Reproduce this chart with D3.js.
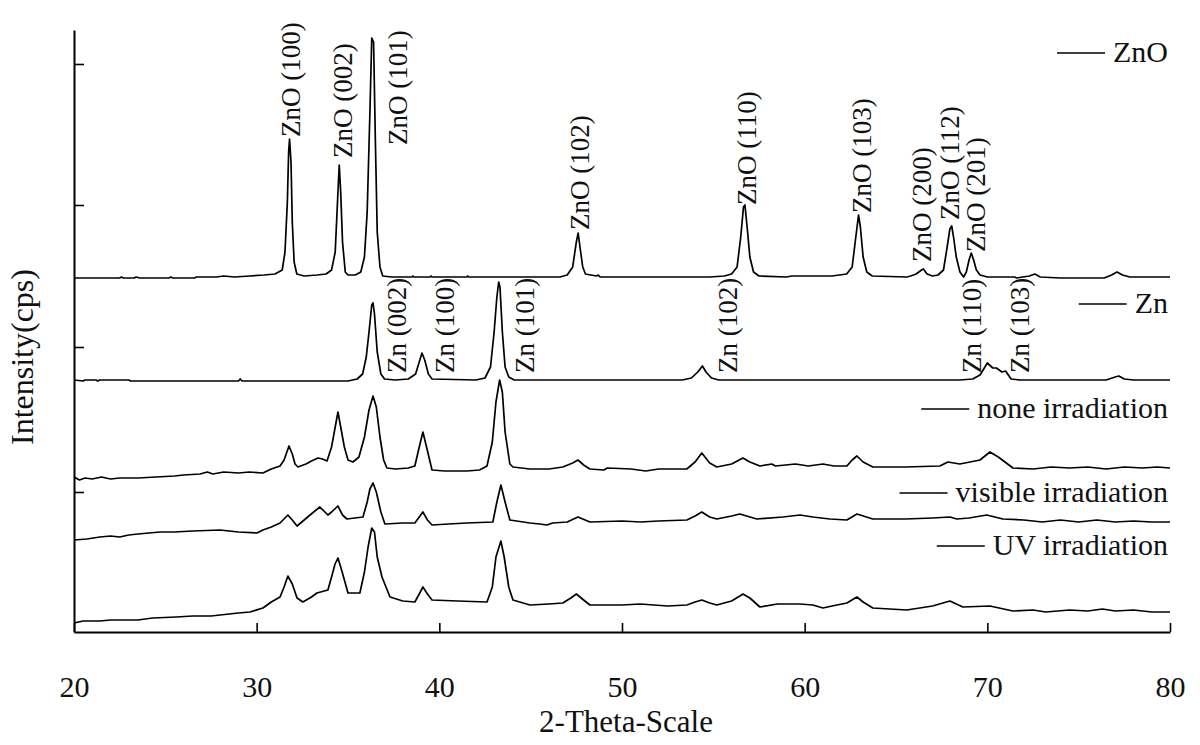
<!DOCTYPE html>
<html>
<head>
<meta charset="utf-8">
<script src="https://cdn.jsdelivr.net/npm/d3@7"></script>
<style>
  body { margin: 0; background: #fff; }
  svg text { font-family: "Liberation Serif", "Times New Roman", serif; fill: #111; }
</style>
</head>
<body>
<svg id="container"></svg>
<script>
// 2-theta (deg), intensity (a.u., curves already offset as plotted)
const zno = [
  [20, 354], [22.5, 354], [22.6, 355], [22.7, 354], [23.3, 354], [23.4, 355], [23.6, 354], [25.2, 354], [25.3, 355], [25.4, 354],
  [26.6, 354], [26.7, 355], [27.8, 355], [28.2, 356], [28.8, 355], [29.6, 356], [30.4, 357], [31.0, 358], [31.4, 362], [31.55, 380],
  [31.68, 430], [31.75, 480], [31.8, 493], [31.88, 470], [31.95, 410], [32.05, 370], [32.2, 358], [32.6, 356], [33.3, 357], [33.8, 358],
  [34.1, 362], [34.3, 380], [34.45, 440], [34.52, 467], [34.6, 440], [34.7, 390], [34.85, 360], [35.0, 357], [35.4, 357], [35.7, 360],
  [35.9, 375], [36.05, 420], [36.2, 520], [36.3, 594], [36.4, 590], [36.5, 490], [36.6, 400], [36.75, 365], [36.9, 356], [37.4, 355],
  [38.5, 355], [38.55, 356], [38.6, 355], [39.5, 355], [39.55, 356], [39.6, 355], [41.5, 355], [41.55, 356], [41.6, 355], [44.8, 355],
  [46.6, 355], [47.0, 357], [47.3, 365], [47.5, 390], [47.6, 399], [47.7, 385], [47.85, 365], [48.0, 358], [48.6, 356], [48.7, 357],
  [48.8, 355], [51.5, 355], [54.8, 355], [55.6, 356], [56.0, 358], [56.3, 365], [56.5, 395], [56.65, 425], [56.73, 427], [56.85, 405],
  [57.0, 375], [57.2, 360], [57.5, 356], [59.0, 355], [59.3, 356], [61.5, 356], [62.3, 358], [62.6, 365], [62.8, 395], [62.95, 417],
  [63.05, 405], [63.2, 375], [63.4, 360], [63.7, 356], [65.6, 355], [65.8, 356], [66.1, 358], [66.4, 362], [66.5, 363], [66.7, 358],
  [67.0, 356], [67.3, 357], [67.6, 362], [67.8, 385], [67.95, 403], [68.05, 406], [68.15, 395], [68.3, 375], [68.5, 360], [68.7, 355],
  [68.85, 360], [69.0, 372], [69.12, 379], [69.25, 372], [69.4, 362], [69.6, 357], [70.0, 355], [71.5, 355], [71.6, 354], [72.3, 356],
  [72.6, 358], [72.9, 355], [74.0, 354], [76.4, 354], [76.8, 357], [77.1, 360], [77.4, 357], [77.8, 355], [80, 355]
]

const zn = [
  [20, 252], [20.5, 251], [20.6, 252], [21.2, 252], [21.3, 251], [21.4, 252], [23.0, 252], [23.1, 251], [29.0, 251], [29.1, 253],
  [29.2, 251], [35.0, 251], [35.5, 253], [35.8, 258], [36.0, 275], [36.15, 300], [36.3, 327], [36.37, 329], [36.45, 318], [36.6, 280],
  [36.8, 258], [37.0, 253], [37.6, 252], [38.3, 253], [38.7, 258], [38.9, 270], [39.05, 279], [39.2, 272], [39.4, 258], [39.6, 253],
  [42.0, 252], [42.5, 254], [42.8, 265], [43.0, 300], [43.15, 335], [43.25, 350], [43.32, 345], [43.45, 300], [43.6, 265], [43.8, 255],
  [44.1, 252], [53.3, 252], [53.8, 254], [54.15, 260], [54.4, 266], [54.6, 260], [54.9, 254], [55.3, 252], [68.5, 252], [69.2, 253],
  [69.6, 257], [70.0, 269], [70.3, 264], [70.5, 264], [70.8, 260], [71.0, 261], [71.3, 253], [71.8, 252], [76.5, 252], [77.0, 255],
  [77.2, 256], [77.5, 253], [78, 252], [80, 252]
]

const noneIrr = [
  [20, 155], [20.3, 152], [20.6, 154], [21.0, 153], [21.5, 155], [22.0, 153], [22.5, 154], [23.5, 154], [24.5, 155], [25.5, 156],
  [26.0, 157], [26.9, 158], [27.3, 160], [27.6, 158], [28.2, 160], [29.0, 159], [29.6, 160], [30.34, 159], [30.8, 163], [31.28, 166],
  [31.5, 172], [31.77, 186], [31.95, 178], [32.1, 168], [32.26, 165], [32.7, 168], [33.0, 171], [33.36, 174], [33.6, 173], [33.85, 171],
  [34.1, 185], [34.3, 205], [34.45, 220], [34.6, 205], [34.8, 185], [35.0, 172], [35.27, 170], [35.6, 175], [35.9, 195], [36.15, 222],
  [36.37, 236], [36.55, 225], [36.75, 195], [36.95, 172], [37.13, 164], [37.6, 163], [38.3, 164], [38.66, 166], [38.9, 185], [39.1, 200],
  [39.3, 185], [39.6, 162], [40.3, 161], [41.5, 161], [42.2, 162], [42.61, 166], [42.9, 190], [43.1, 230], [43.3, 252], [43.45, 240],
  [43.6, 200], [43.86, 168], [44.03, 165], [44.96, 163], [46.0, 163], [46.76, 165], [47.3, 169], [47.59, 172], [47.9, 167], [48.24, 163],
  [49.0, 162], [49.2, 164], [50.5, 163], [51.3, 161], [52.0, 163], [53.55, 163], [54.0, 170], [54.37, 179], [54.8, 169], [55.19, 165],
  [56.0, 168], [56.62, 174], [57.0, 170], [57.55, 166], [58.2, 168], [58.4, 166], [59.5, 168], [60.2, 166], [61.0, 168], [61.6, 166],
  [62.31, 166], [62.6, 172], [62.86, 176], [63.2, 170], [63.73, 165], [65.5, 165], [67.4, 166], [67.84, 170], [68.49, 168], [69.6, 172],
  [70.14, 180], [70.6, 175], [71.4, 164], [72.5, 163], [73.5, 165], [74.5, 164], [75.5, 165], [76.5, 163], [77.5, 165], [78.5, 164],
  [79.3, 165], [80, 164]
]

const visibleIrr = [
  [20, 92], [20.7, 93], [21.42, 95], [22.0, 96], [22.5, 95], [23.0, 97], [23.5, 98], [24.71, 100], [25.5, 100], [26.5, 101],
  [27.99, 102], [28.5, 101], [29.0, 100], [30.02, 99], [30.34, 102], [30.8, 105], [31.28, 109], [31.71, 117], [31.95, 112], [32.21, 106],
  [32.6, 112], [32.92, 117], [33.46, 125], [33.9, 117], [34.1, 120], [34.45, 126], [34.7, 117], [34.94, 113], [35.82, 115], [36.05, 130],
  [36.2, 143], [36.37, 149], [36.55, 140], [36.8, 120], [37.02, 108], [38.0, 109], [38.66, 109], [38.9, 115], [39.1, 120], [39.35, 112],
  [39.6, 107], [40.5, 108], [41.5, 109], [42.93, 110], [43.15, 130], [43.37, 147], [43.6, 130], [43.86, 112], [44.96, 109], [45.5, 108],
  [45.89, 107], [46.2, 109], [47.0, 110], [47.59, 115], [48.24, 110], [50, 111], [51.0, 110], [52, 111], [53.55, 112], [54.0, 116],
  [54.37, 120], [54.8, 115], [55.19, 113], [56.0, 116], [56.45, 118], [57.38, 113], [58.81, 115], [59.74, 117], [60.45, 115], [61.38, 113],
  [62.31, 112], [62.86, 118], [63.73, 113], [65.5, 113], [67.0, 114], [67.95, 115], [68.33, 113], [69.0, 114], [69.97, 117], [70.85, 113],
  [72, 112], [73, 110], [74, 112], [75, 110], [76, 112], [77, 110], [78, 111], [79, 110], [80, 110]
]

const uvIrr = [
  [20, 9], [20.5, 11], [21.42, 11], [22.0, 12], [23.5, 12], [24.3, 14], [25.6, 15], [26.5, 16], [27.5, 16], [28.0, 17],
  [29.0, 19], [29.63, 20], [30.34, 24], [30.8, 30], [31.28, 35], [31.5, 45], [31.71, 56], [31.95, 48], [32.21, 34], [32.53, 30],
  [33.0, 35], [33.3, 39], [33.9, 42], [34.1, 55], [34.29, 68], [34.45, 74], [34.65, 62], [35.0, 39], [35.65, 39], [35.9, 60],
  [36.1, 85], [36.3, 104], [36.45, 100], [36.6, 75], [36.86, 55], [37.3, 35], [38.0, 31], [38.66, 30], [38.9, 38], [39.1, 45],
  [39.35, 38], [39.6, 32], [41, 31], [42.61, 30], [42.9, 45], [43.1, 75], [43.37, 91], [43.55, 75], [43.8, 45], [44.03, 32],
  [44.96, 27], [46.0, 28], [46.76, 29], [47.2, 34], [47.5, 38], [47.9, 32], [48.24, 27], [50, 27], [51, 28], [52.5, 26],
  [53.55, 27], [54.0, 30], [54.37, 32], [54.8, 29], [55.19, 27], [56.0, 31], [56.45, 36], [56.62, 38], [57.0, 34], [57.55, 25],
  [58.5, 28], [59.74, 28], [60.45, 27], [61.0, 24], [61.5, 26], [62.31, 29], [62.86, 35], [63.2, 30], [63.73, 24], [65.59, 22],
  [67.0, 26], [67.95, 31], [68.66, 25], [70.14, 26], [71.4, 21], [72.5, 22], [73.2, 20], [74.5, 22], [75.5, 21], [76.3, 23],
  [77, 21], [78, 22], [79, 20], [80, 20]
]

const seriesNames = ["ZnO", "Zn", "none irradiation", "visible irradiation", "UV irradiation"]
const seriesData = [zno, zn, noneIrr, visibleIrr, uvIrr]

// peak labels: text, 2-theta, intensity at label foot
const peakLabels = [
  ["ZnO (100)", 31.88, 495], ["ZnO (002)", 34.72, 474], ["ZnO (101)", 37.73, 487], ["ZnO (102)", 47.7, 402],
  ["ZnO (110)", 56.84, 427], ["ZnO (103)", 63.13, 419], ["ZnO (200)", 66.41, 370], ["ZnO (112)", 67.95, 412],
  ["ZnO (201)", 69.37, 380],
  ["Zn (002)", 37.68, 259], ["Zn (100)", 40.31, 259], ["Zn (101)", 44.69, 259], ["Zn (102)", 55.8, 259],
  ["Zn (110)", 69.15, 259], ["Zn (103)", 71.78, 259]
]

const xTicks = [20, 30, 40, 50, 60, 70, 80]
const yTicks = [140, 285, 427, 568]

const W = 1200, H = 745
const margin = {left: 74, right: 30, top: 30, bottom: 113}

const setup = () => {
	const svg = d3.select("#container")
	svg.attr("width", W).attr("height", H)

	const x = d3.scaleLinear().domain([20, 80]).range([margin.left, W - margin.right])
	const y = d3.scaleLinear().domain([0, 602]).range([H - margin.bottom, margin.top])

	const lineGenerator = d3.line()
	                        .x(d => x(d[0]))
	                        .y(d => y(d[1]))

	for (let s of seriesData) {
		svg.append("path")
		   .attr("d", lineGenerator(s))
		   .attr("stroke", "#000")
		   .attr("stroke-width", 1.7)
		   .attr("stroke-linejoin", "round")
		   .attr("fill", "none")
	}

	// axes
	const xAxis = svg.append("g")
	   .attr("transform", `translate(0,${H - margin.bottom})`)
	   .call(d3.axisBottom(x).tickValues(xTicks).tickSizeInner(-9).tickSizeOuter(0).tickPadding(44))
	const yAxis = svg.append("g")
	   .attr("transform", `translate(${margin.left},0)`)
	   .call(d3.axisLeft(y).tickValues(yTicks).tickFormat("").tickSizeInner(-10).tickSizeOuter(0))

	for (let a of [xAxis, yAxis]) {
		a.select(".domain").attr("stroke", "#000").attr("stroke-width", 2)
		a.selectAll(".tick line").attr("stroke", "#000").attr("stroke-width", 1.6)
	}
	xAxis.selectAll(".tick text")
	     .attr("font-size", 30)
	     .attr("font-family", "Liberation Serif")
	     .attr("fill", "#111")

	svg.append("text")
	   .attr("x", 626).attr("y", 732)
	   .attr("text-anchor", "middle")
	   .attr("font-size", 31)
	   .text("2-Theta-Scale")

	svg.append("text")
	   .attr("transform", "translate(33,445) rotate(-90)")
	   .attr("font-size", 32)
	   .text("Intensity(cps)")

	// peak annotations
	for (let p of peakLabels) {
		svg.append("text")
		   .attr("transform", `translate(${x(p[1])},${y(p[2])}) rotate(-90)`)
		   .attr("dy", "0.35em")
		   .attr("font-size", 27)
		   .attr("fill", "#333")
		   .text(p[0])
	}

	// legend, one entry next to each curve
	const legendY = [62, 313, 418, 502, 555]
	seriesNames.forEach((name, i) => {
		const t = svg.append("text")
		   .attr("x", 1168).attr("y", legendY[i])
		   .attr("text-anchor", "end")
		   .attr("font-size", 30)
		   .text(name)
		const w = t.node().getComputedTextLength()
		svg.append("line")
		   .attr("x1", 1168 - w - 56).attr("x2", 1168 - w - 8)
		   .attr("y1", legendY[i] - 9).attr("y2", legendY[i] - 9)
		   .attr("stroke", "#000").attr("stroke-width", 1.6)
	})
}

document.addEventListener("DOMContentLoaded", setup)
</script>
</body>
</html>
